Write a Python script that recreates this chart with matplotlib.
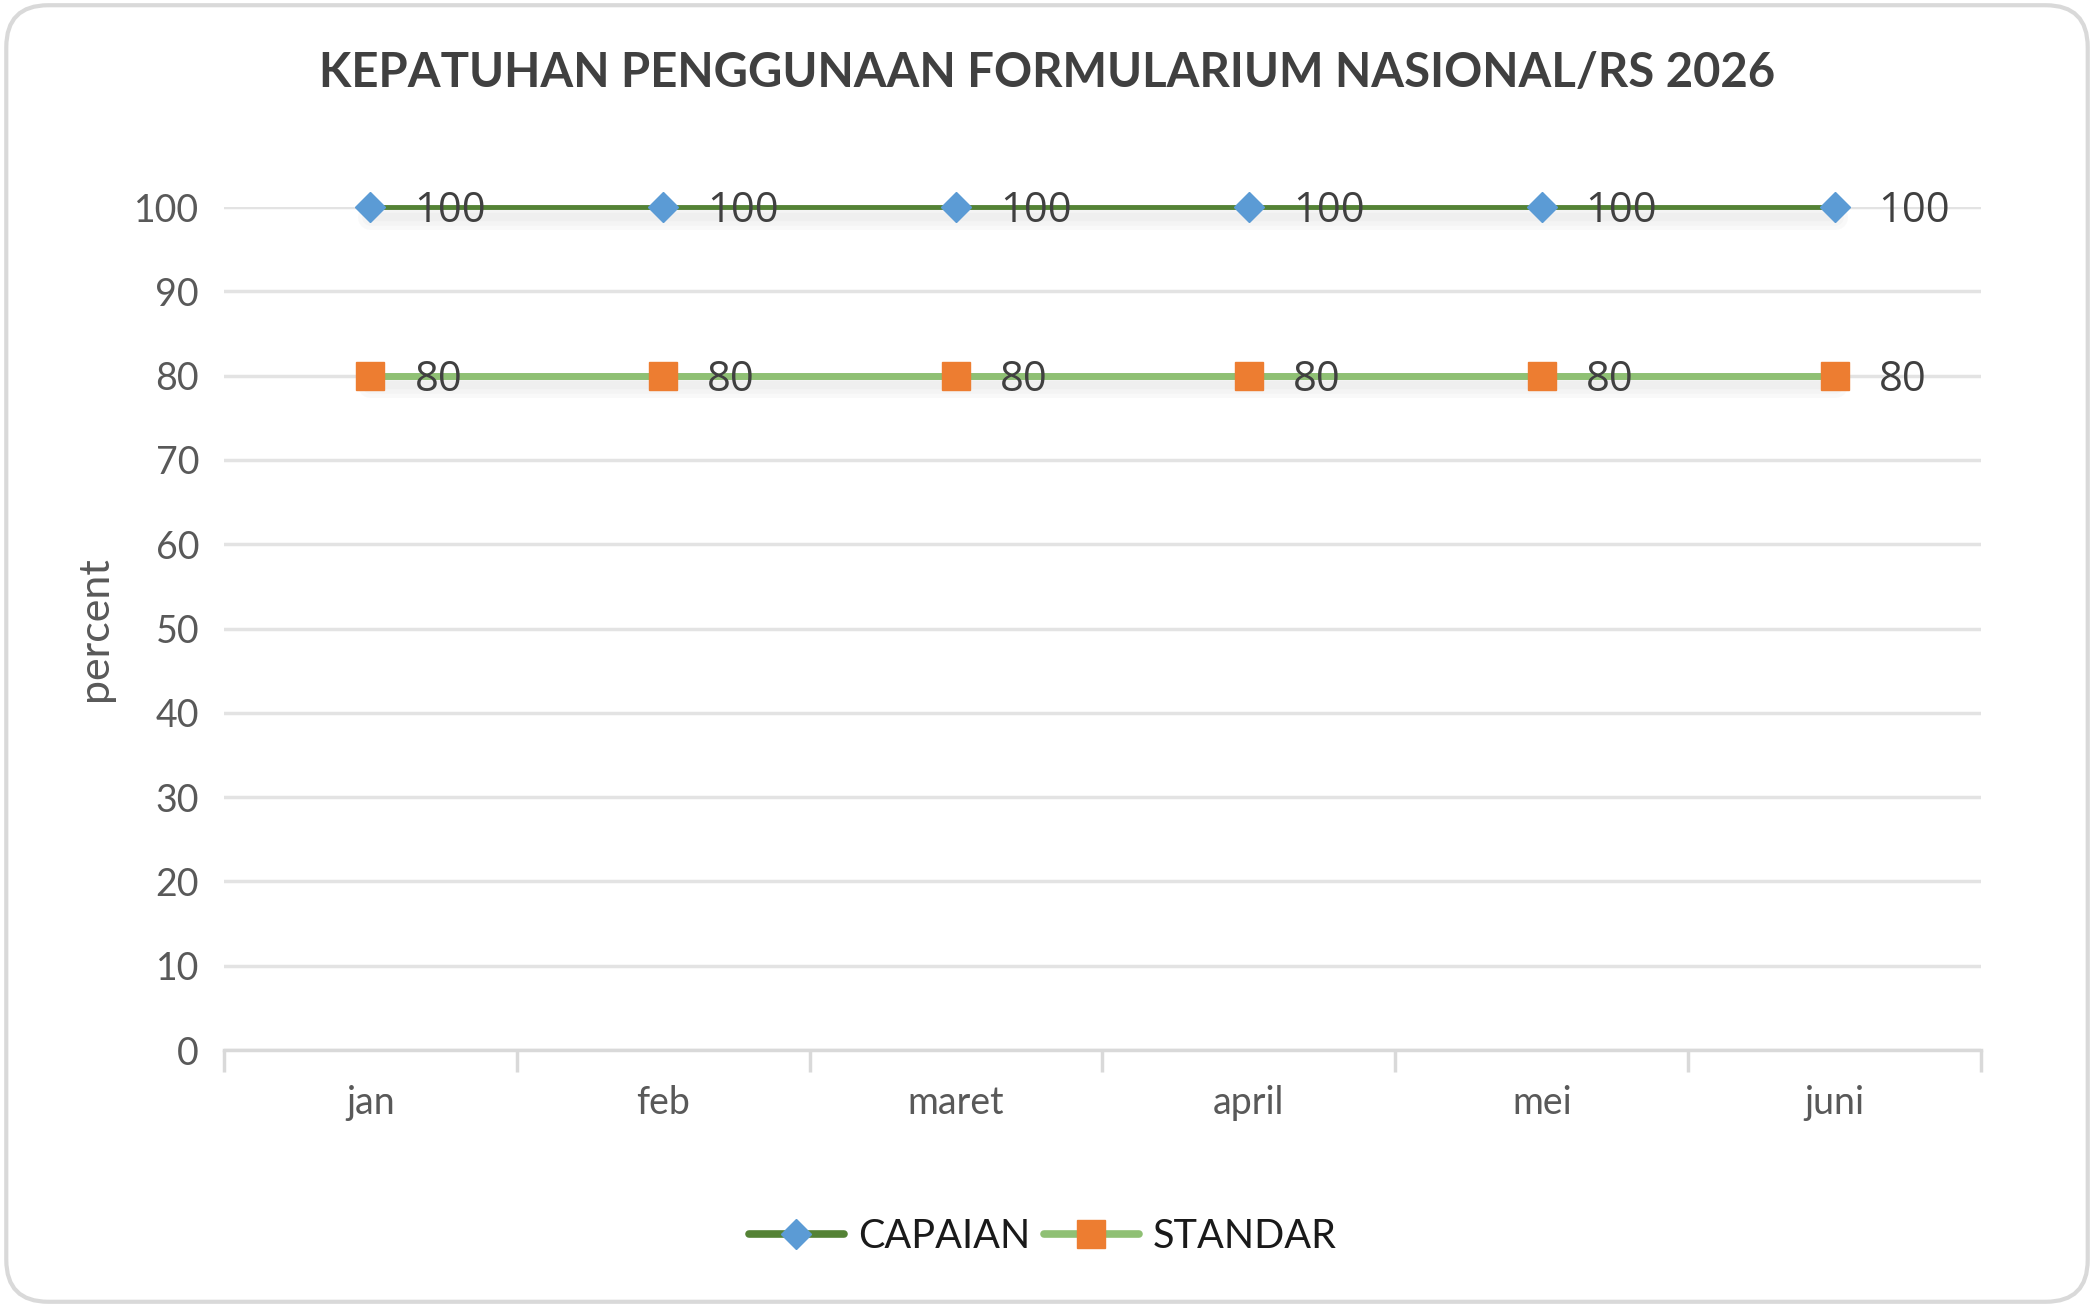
import matplotlib
matplotlib.use("Agg")
import matplotlib.pyplot as plt
import matplotlib.patheffects as pe
from matplotlib.patches import FancyBboxPatch
import numpy as np

# data
bulan = ['jan', 'feb', 'maret', 'april', 'mei', 'juni']
capaian = [100, 100, 100, 100, 100, 100]
standar = [80, 80, 80, 80, 80, 80]
y_ticks = [0, 10, 20, 30, 40, 50, 60, 70, 80, 90, 100]

plt.rcParams['font.family'] = ['Lato', 'DejaVu Sans']

fig = plt.figure(figsize=(20.94, 13.07), dpi=100)
fig.patch.set_facecolor('white')

# rounded chart border
border = FancyBboxPatch((0.003, 0.004), 0.994, 0.992, boxstyle="round,pad=0,rounding_size=0.02",
                        transform=fig.transFigure, facecolor='none', edgecolor='#d9d9d9',
                        linewidth=3, mutation_aspect=20.94 / 13.07, zorder=-1)
fig.patches.append(border)

ax = fig.add_axes([0.107, 0.1966, 0.839, 0.645])
ax.patch.set_alpha(0)
x = np.arange(len(bulan))

# soft shadow under the lines only (a few faint layers)
shadow = [pe.SimpleLineShadow(offset=(0, -7), shadow_color='#7f7f7f', alpha=0.04, linewidth=w)
          for w in (18, 12, 6)]
ax.plot(x, capaian, color='none', linewidth=3.5, solid_capstyle='round', clip_on=False, zorder=2,
        path_effects=shadow)
ax.plot(x, standar, color='none', linewidth=5, solid_capstyle='round', clip_on=False, zorder=2,
        path_effects=shadow)

ax.plot(x, capaian, color='#548235', linewidth=3.5, marker='D', markersize=15,
        markerfacecolor='#5b9bd5', markeredgecolor='#5b9bd5', label='CAPAIAN',
        clip_on=False, zorder=4)
ax.plot(x, standar, color='#8fc074', linewidth=5, marker='s', markersize=20,
        markerfacecolor='#ed7d31', markeredgecolor='#ed7d31', label='STANDAR',
        clip_on=False, zorder=3)

# data labels
for i in range(len(bulan)):
    ax.annotate(str(capaian[i]), (x[i], capaian[i]), xytext=(44, -4), textcoords='offset pixels',
                va='center', ha='left', fontsize=30, color='#404040', family=['Open Sans', 'DejaVu Sans'],
                zorder=5)
    ax.annotate(str(standar[i]), (x[i], standar[i]), xytext=(44, -4), textcoords='offset pixels',
                va='center', ha='left', fontsize=30, color='#404040', family=['Open Sans', 'DejaVu Sans'],
                zorder=5)

ax.set_xlim(-0.5, len(bulan) - 0.5)
ax.set_ylim(0, 100)
ax.set_yticks(y_ticks)
ax.set_xticks(x)
ax.set_xticklabels(bulan)
ax.set_xticks(np.arange(-0.5, len(bulan)), minor=True)

ax.grid(axis='y', color='#e3e3e3', linewidth=2.5, zorder=0)
ax.set_axisbelow(True)
for s in ['top', 'right', 'left']:
    ax.spines[s].set_visible(False)
ax.spines['bottom'].set_color('#d9d9d9')
ax.spines['bottom'].set_linewidth(2.5)

ax.tick_params(axis='y', length=0, pad=18, labelsize=27, labelcolor='#595959')
ax.tick_params(axis='x', which='major', length=0, pad=25, labelsize=27, labelcolor='#595959')
ax.tick_params(axis='x', which='minor', length=16, width=2.5, color='#d9d9d9')

ax.set_ylabel('percent', fontsize=31, color='#595959', labelpad=14)

fig.text(0.5, 0.944, 'KEPATUHAN PENGGUNAAN FORMULARIUM NASIONAL/RS 2026', ha='center', va='center',
         fontsize=34, fontweight='bold', color='#404040')

leg = ax.legend(loc='center', bbox_to_anchor=(0.498, 0.054), bbox_transform=fig.transFigure,
                ncol=2, frameon=False, fontsize=28.5, handlelength=2.4, columnspacing=0.35,
                handletextpad=0.35)
for t in leg.get_texts():
    t.set_color('#1a1a1a')
for h in leg.get_lines():
    h.set_linewidth(5.5)
    h.set_solid_capstyle('round')

fig.savefig('out.png', dpi=100)
